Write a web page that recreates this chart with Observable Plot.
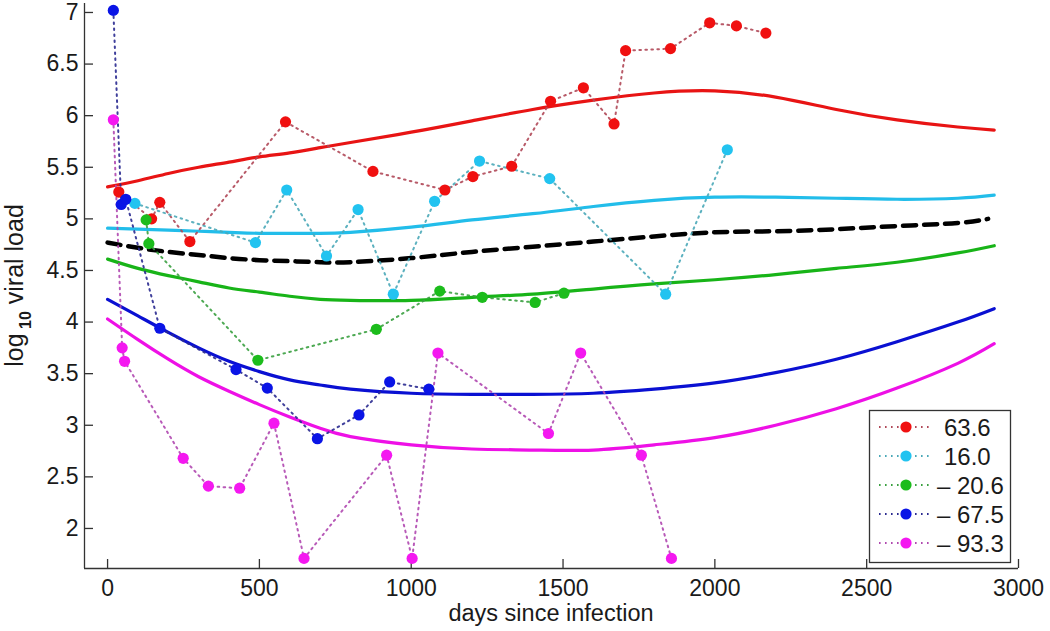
<!DOCTYPE html>
<html>
<head>
<meta charset="utf-8">
<script src="https://cdn.jsdelivr.net/npm/d3@7"></script>
<script src="https://cdn.jsdelivr.net/npm/@observablehq/plot@0.6"></script>
<style>
  html, body { margin: 0; padding: 0; background: #fff; }
  #chart { width: 1050px; height: 631px; }
</style>
</head>
<body>
<div id="chart"></div>
<script>
// ---------- data ----------
const seriesNames = ["63.6", "16.0", "– 20.6", "– 67.5", "– 93.3"];

const redDays = [37, 145, 172, 271, 586, 874, 1111, 1203, 1331, 1459, 1567, 1668, 1706, 1854, 1983, 2071, 2168];
const redVals = [5.26, 5.00, 5.16, 4.78, 5.94, 5.46, 5.28, 5.41, 5.51, 6.14, 6.27, 5.92, 6.63, 6.65, 6.90, 6.87, 6.80];

const cyanDays = [90, 487, 590, 721, 825, 941, 1077, 1225, 1456, 1838, 2041];
const cyanVals = [5.15, 4.77, 5.28, 4.64, 5.09, 4.27, 5.17, 5.56, 5.39, 4.27, 5.67];

const greenDays = [127, 136, 495, 885, 1094, 1234, 1408, 1503];
const greenVals = [4.99, 4.76, 3.63, 3.93, 4.30, 4.24, 4.19, 4.28];

const blueDays = [19, 45, 60, 172, 423, 526, 691, 828, 929, 1058];
const blueVals = [7.02, 5.14, 5.19, 3.94, 3.54, 3.36, 2.87, 3.10, 3.42, 3.35];

const magentaDays = [19, 48, 56, 249, 332, 435, 548, 647, 919, 1003, 1088, 1452, 1558, 1758, 1857];
const magentaVals = [5.96, 3.75, 3.62, 2.68, 2.41, 2.39, 3.02, 1.71, 2.71, 1.71, 3.70, 2.92, 3.70, 2.71, 1.71];

// fitted curves, sampled at these days
const fitDays = [0, 100, 200, 300, 400, 500, 600, 700, 800, 1000, 1200, 1400, 1600, 1800, 2000, 2200, 2400, 2600, 2800, 2920];
const redFit     = [5.31, 5.37, 5.44, 5.50, 5.55, 5.60, 5.64, 5.69, 5.74, 5.84, 5.95, 6.06, 6.15, 6.22, 6.24, 6.18, 6.06, 5.96, 5.89, 5.86];
const cyanFit    = [4.91, 4.90, 4.89, 4.88, 4.87, 4.86, 4.86, 4.86, 4.87, 4.92, 4.99, 5.05, 5.12, 5.18, 5.21, 5.21, 5.20, 5.19, 5.20, 5.23];
const greenFit   = [4.61, 4.52, 4.45, 4.39, 4.33, 4.29, 4.25, 4.22, 4.21, 4.21, 4.24, 4.27, 4.32, 4.37, 4.41, 4.46, 4.52, 4.58, 4.67, 4.74];
const blueFit    = [4.22, 4.06, 3.90, 3.75, 3.62, 3.52, 3.44, 3.39, 3.35, 3.31, 3.30, 3.30, 3.31, 3.35, 3.41, 3.51, 3.64, 3.81, 4.00, 4.13];
const magentaFit = [4.03, 3.83, 3.64, 3.47, 3.33, 3.20, 3.08, 2.97, 2.89, 2.81, 2.77, 2.76, 2.76, 2.81, 2.88, 3.00, 3.16, 3.36, 3.60, 3.79];
const meanFitDays = [0, 100, 200, 300, 400, 500, 600, 700, 800, 1000, 1200, 1400, 1600, 1800, 2000, 2200, 2400, 2600, 2800, 2900];
const meanFit     = [4.77, 4.72, 4.68, 4.65, 4.62, 4.60, 4.59, 4.58, 4.58, 4.62, 4.68, 4.73, 4.78, 4.83, 4.87, 4.88, 4.90, 4.93, 4.96, 5.00];

const xTicks = [0, 500, 1000, 1500, 2000, 2500, 3000];
const yTicks = [2, 2.5, 3, 3.5, 4, 4.5, 5, 5.5, 6, 6.5, 7];
const xTitle = "days since infection";

// ---------- styling ----------
const dotColors    = ["#f01010", "#22c3f0", "#1cbc1c", "#0a14e6", "#f418f0"];
const fitColors    = ["#e81414", "#22bdea", "#18b418", "#0a10d2", "#ee10e6"];
const dottedColors = ["#b04858", "#4aa8b8", "#3aa040", "#2a2a90", "#b048b0"];

const W = 1050, H = 631, mL = 84, mR = 32, mT = 3, mB = 63;
const xDomain = [-76, 3000];
const yDomain = [1.612, 7.087];
const tickPx = 9;
const tickLenY = tickPx * (yDomain[1] - yDomain[0]) / (H - mT - mB);
const tickLenX = tickPx * (xDomain[1] - xDomain[0]) / (W - mL - mR);

const obs = [
  [redDays, redVals], [cyanDays, cyanVals], [greenDays, greenVals],
  [blueDays, blueVals], [magentaDays, magentaVals]
].map(([ds, vs], i) => ds.map((d, j) => ({series: i, day: d, v: vs[j]})));
const fits = [redFit, cyanFit, greenFit, blueFit, magentaFit]
  .map((vs, i) => fitDays.map((d, j) => ({series: i, day: d, v: vs[j]})));
const meanData = meanFitDays.map((d, j) => ({day: d, v: meanFit[j]}));

const marks = [];
// axes lines
marks.push(Plot.ruleY([yDomain[0]], {stroke: "#333", strokeWidth: 1.3}));
marks.push(Plot.ruleX([xDomain[0]], {stroke: "#333", strokeWidth: 1.3}));
// inward ticks
marks.push(Plot.ruleX(xTicks, {x: d => d, y1: yDomain[0], y2: yDomain[0] + tickLenY, stroke: "#333", strokeWidth: 1.3}));
marks.push(Plot.ruleY(yTicks, {y: d => d, x1: xDomain[0], x2: xDomain[0] + tickLenX, stroke: "#333", strokeWidth: 1.3}));
marks.push(Plot.axisX({ticks: xTicks, tickSize: 0, tickPadding: 11, tickFormat: d => String(d), label: null, fill: "#1a1a1a"}));
marks.push(Plot.axisY({ticks: yTicks, tickSize: 0, tickPadding: 6, tickFormat: d => String(d), label: null, fill: "#1a1a1a"}));

// fitted curves
fits.forEach((f, i) => {
  marks.push(Plot.line(f, {x: "day", y: "v", stroke: fitColors[i], strokeWidth: 3.2, curve: "natural"}));
});
marks.push(Plot.line(meanData, {x: "day", y: "v", stroke: "#000", strokeWidth: 4.5, strokeDasharray: "13,8", curve: "natural"}));

// observed dotted lines + points
obs.forEach((o, i) => {
  marks.push(Plot.line(o, {x: "day", y: "v", stroke: dottedColors[i], strokeWidth: 2, strokeDasharray: "1.6,4.4", strokeOpacity: 0.9}));
});
obs.forEach((o, i) => {
  marks.push(Plot.dot(o, {x: "day", y: "v", r: 5.6, fill: dotColors[i], stroke: "none"}));
});

const svg = Plot.plot({
  width: W, height: H,
  marginLeft: mL, marginRight: mR, marginTop: mT, marginBottom: mB,
  x: {domain: xDomain},
  y: {domain: yDomain},
  style: {fontFamily: "'Liberation Sans', Arial, Helvetica, sans-serif", fontSize: "23px", background: "#fff", color: "#1a1a1a", overflow: "visible"},
  marks
});

const s = d3.select(svg);
const font = "'Liberation Sans', Arial, Helvetica, sans-serif";

// x title
s.append("text")
  .attr("x", (mL + W - mR) / 2).attr("y", 621)
  .attr("text-anchor", "middle")
  .attr("font-family", font).attr("font-size", 23.5).attr("fill", "#1a1a1a")
  .text(xTitle);

// y title with subscript
const yt = s.append("text")
  .attr("transform", `translate(23,${(mT + H - mB) / 2}) rotate(-90)`)
  .attr("text-anchor", "middle")
  .attr("font-family", font).attr("font-size", 25).attr("fill", "#1a1a1a");
yt.append("tspan").text("log");
yt.append("tspan").attr("dy", 8).attr("font-size", 16).attr("font-weight", "bold").text(" 10");
yt.append("tspan").attr("dy", -8).text(" viral load");

// legend
const lg = s.append("g");
lg.append("rect").attr("x", 869.5).attr("y", 410.5).attr("width", 141).attr("height", 152)
  .attr("fill", "#fff").attr("stroke", "#333").attr("stroke-width", 1.3);
const rowY = [427, 456, 485, 514, 543];
seriesNames.forEach((name, i) => {
  const y = rowY[i];
  lg.append("line").attr("x1", 879).attr("x2", 929).attr("y1", y).attr("y2", y)
    .attr("stroke", dottedColors[i]).attr("stroke-width", 2).attr("stroke-dasharray", "1.6,4.4");
  lg.append("circle").attr("cx", 906).attr("cy", y).attr("r", 5.6).attr("fill", dotColors[i]);
  lg.append("text").attr("x", name.startsWith("–") ? 937 : 944).attr("y", y).attr("dy", "0.36em")
    .attr("text-anchor", "start")
    .attr("font-family", font).attr("font-size", 24).attr("fill", "#1a1a1a").text(name);
});

document.getElementById("chart").appendChild(svg);
</script>
</body>
</html>
